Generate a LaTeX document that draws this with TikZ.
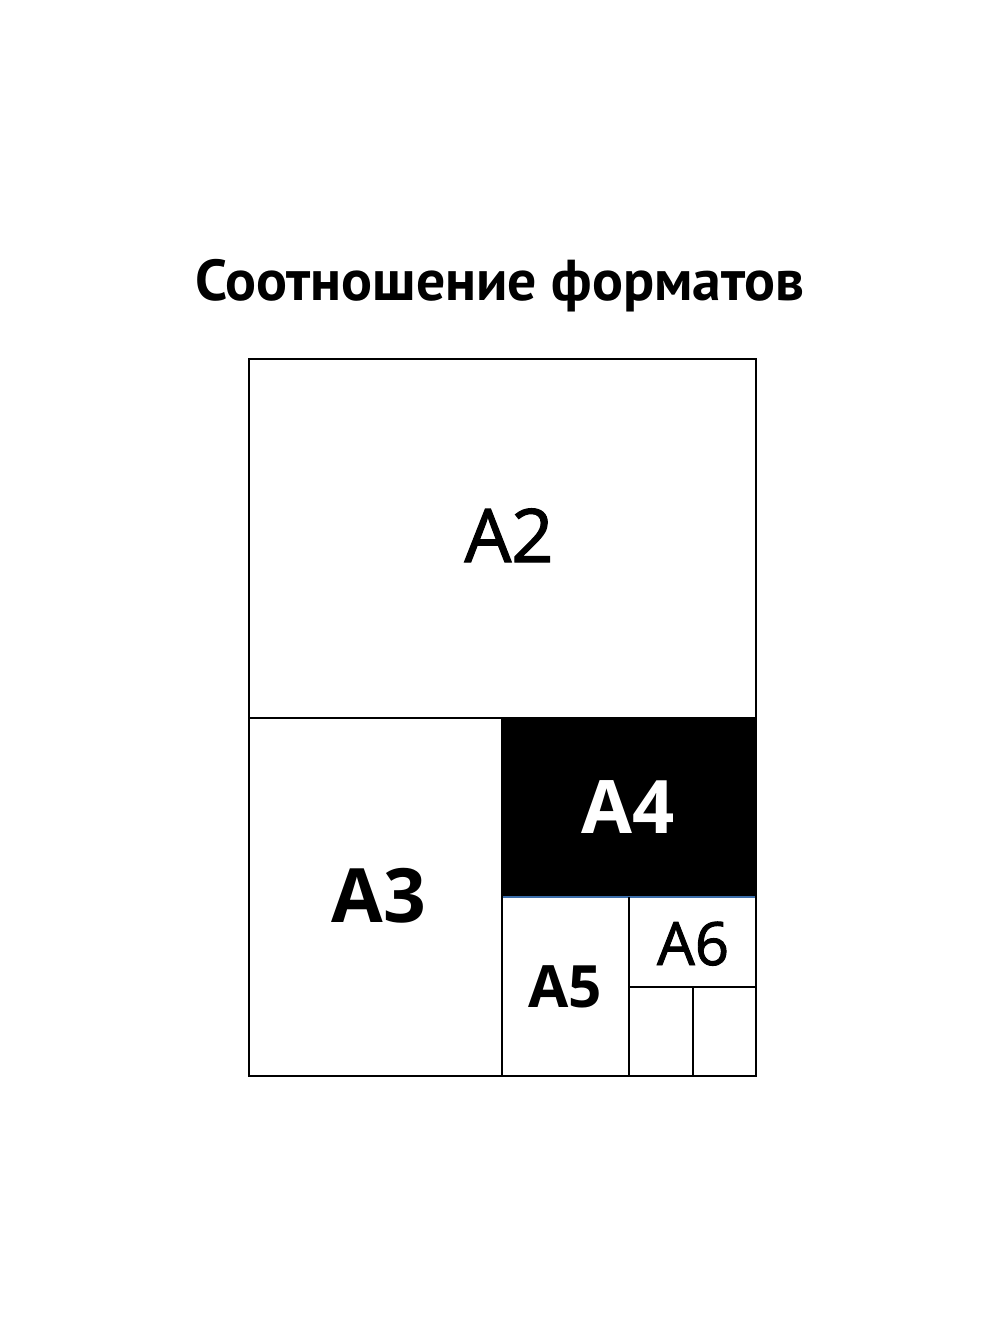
\documentclass[tikz,border=0pt]{standalone}
\usepackage{fontspec}
\setmainfont{PT Sans}
\newfontfamily\labelfont{Open Sans}
\newfontfamily\midfont[FakeBold=1.6]{Open Sans}
\usetikzlibrary{positioning}
\definecolor{edgeblue}{RGB}{60,110,170}
\tikzset{
  sheet/.style={draw=black, line width=0.6pt},
  label/.style={inner sep=0pt, anchor=base}
}
\begin{document}
\begin{tikzpicture}[x=0.01cm, y=-0.01cm]
%page
\useasboundingbox[fill=white] (0,0) rectangle (1000,1333);
%title
\node[label, font=\bfseries\fontsize{16.4}{20}\selectfont] (title) at (500,300) {Соотношение форматов};
%A4 shade
\fill[black] (502,718) rectangle (756,897);
\draw[edgeblue, line width=0.6pt] (502,897) -- (756,897);
%outline
\draw[sheet] (249,359) rectangle (756,1076);
%splits
\draw[sheet] (249,718) -- (756,718);%A2
\draw[sheet] (502,718) -- (502,1076);%A3
\draw[sheet] (629,897) -- (629,1076);%A5
\draw[sheet] (629,987) -- (756,987);%A6
\draw[sheet] (693,987) -- (693,1076);%A7
%labels
\node[label, font=\midfont\fontsize{21}{24}\selectfont] (a2) at (509,562) {A2};
\node[label, font=\labelfont\bfseries\fontsize{21.3}{24}\selectfont] (a3) at (379,922) {A3};
\node[label, font=\labelfont\bfseries\fontsize{21}{24}\selectfont, text=white] (a4) at (628,833) {A4};
\node[label, font=\labelfont\bfseries\fontsize{16.6}{20}\selectfont] (a5) at (565,1007) {A5};
\node[label, font=\midfont\fontsize{17}{20}\selectfont] (a6) at (693,965) {A6};
\end{tikzpicture}
\end{document}
